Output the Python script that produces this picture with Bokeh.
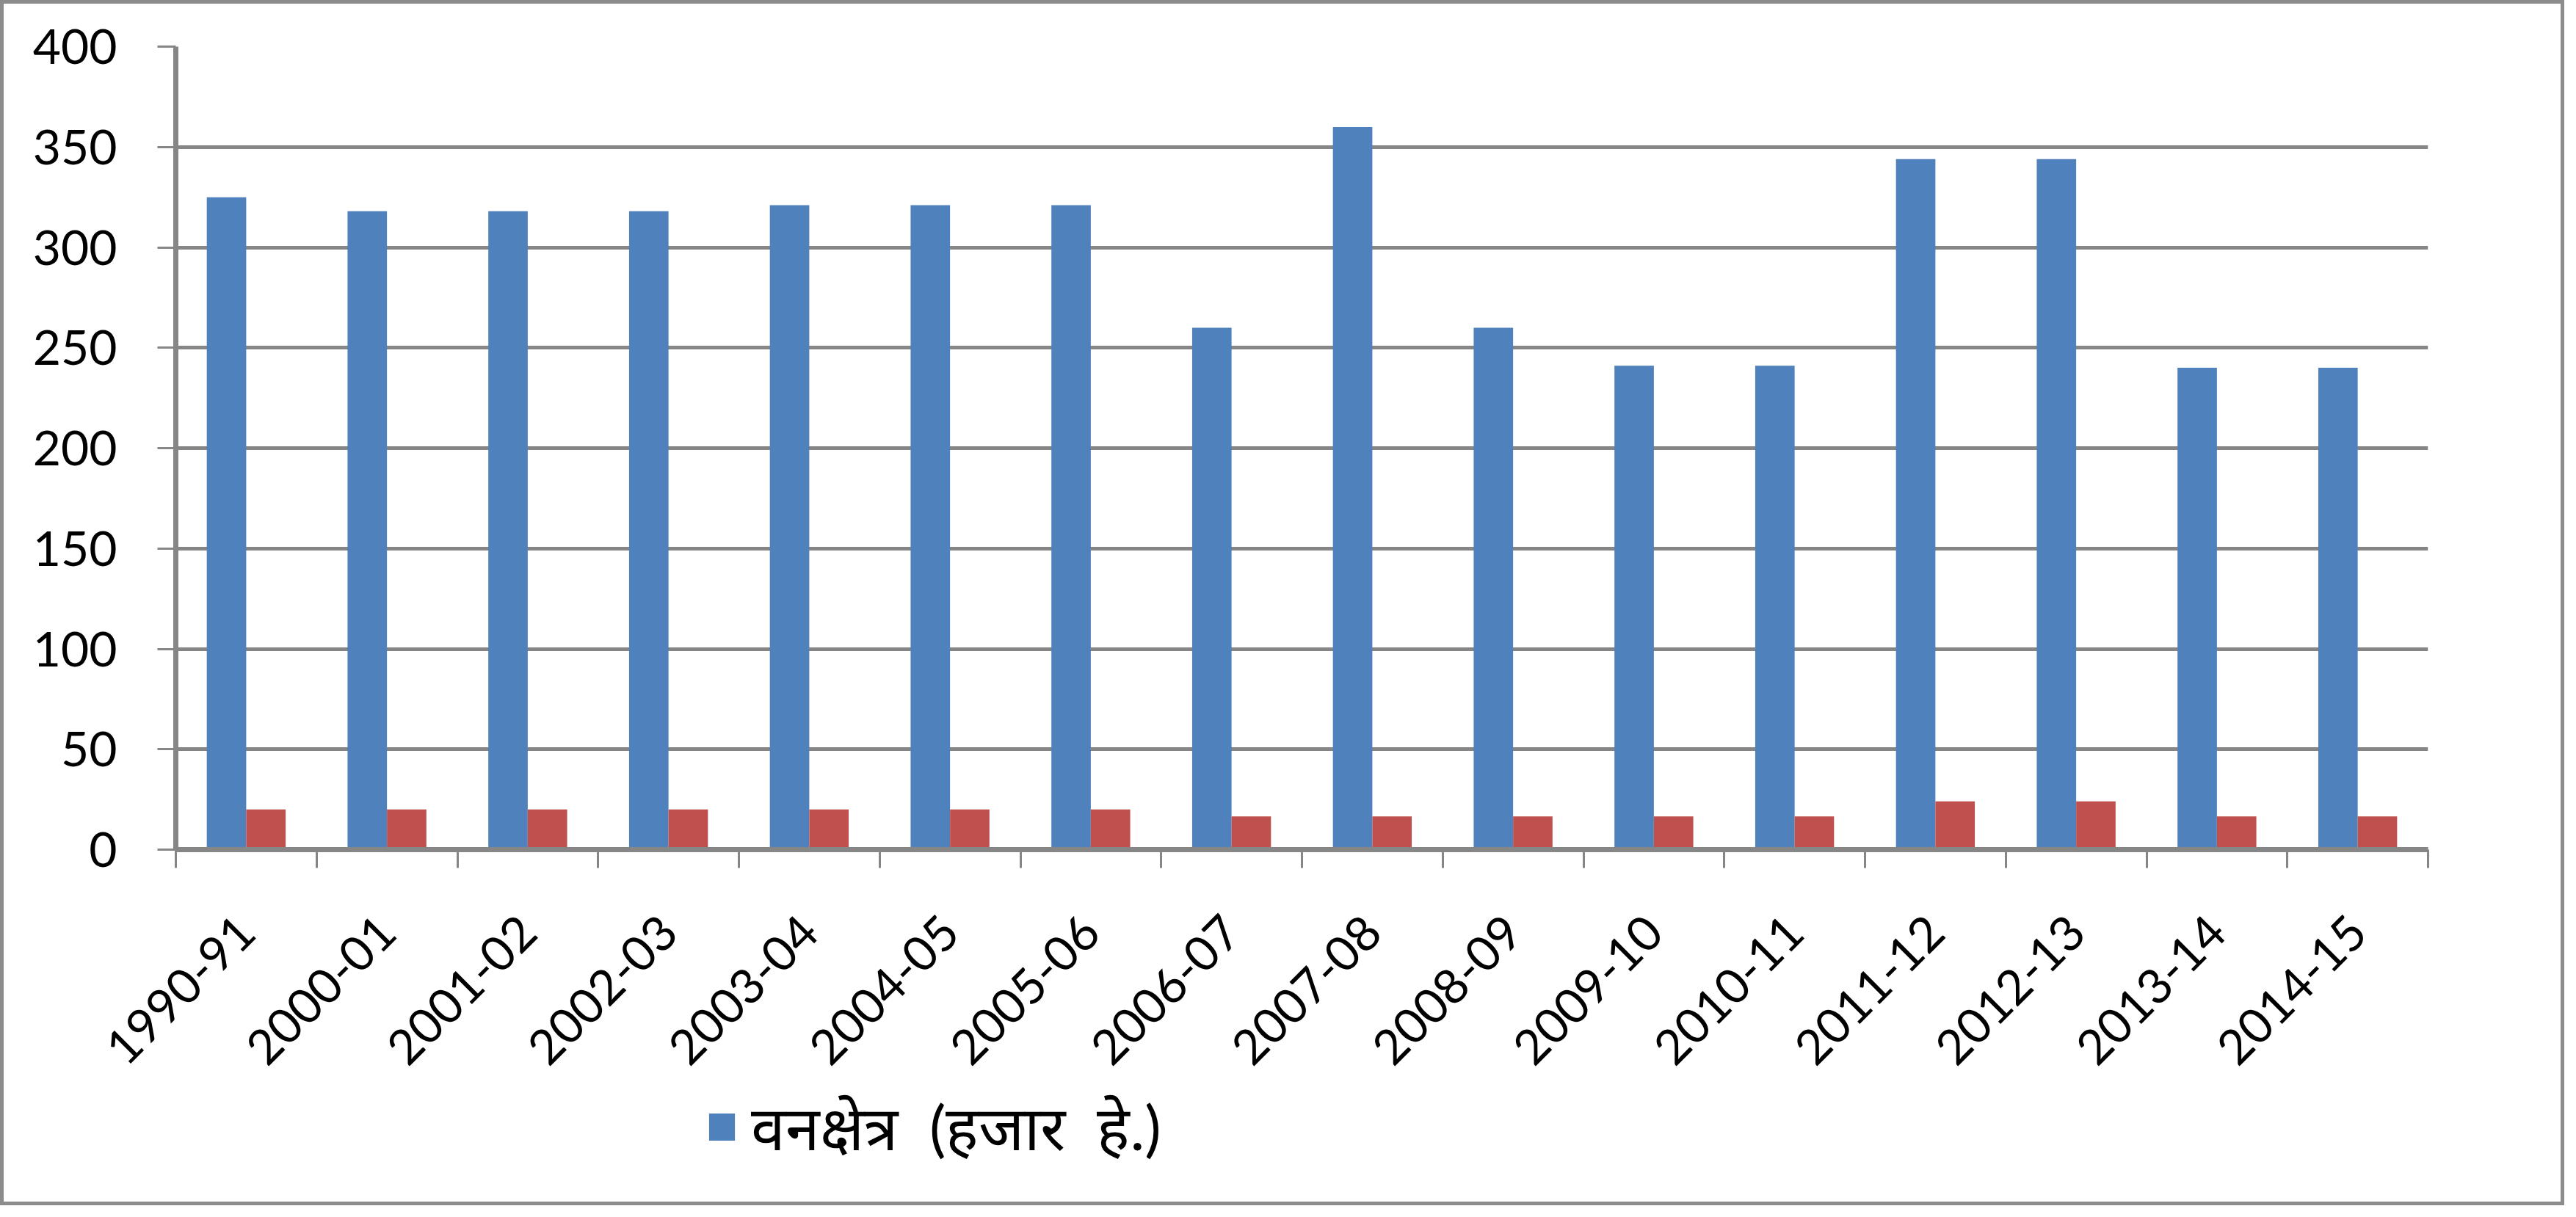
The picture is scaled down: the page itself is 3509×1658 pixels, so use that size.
import math
import numpy as np
from bokeh.plotting import figure
from bokeh.layouts import column
from bokeh.models import FixedTicker, Range1d, Legend, LegendItem
from bokeh.embed import file_html
from bokeh.resources import INLINE

years = ["1990-91", "2000-01", "2001-02", "2002-03", "2003-04", "2004-05",
         "2005-06", "2006-07", "2007-08", "2008-09", "2009-10", "2010-11",
         "2011-12", "2012-13", "2013-14", "2014-15"]
forest_area = [325, 318, 318, 318, 321, 321, 321, 260, 360, 260, 241, 241,
               344, 344, 240, 240]
second_series = [20, 20, 20, 20, 20, 20, 20, 16.5, 16.5, 16.5, 16.5, 16.5,
                 24, 24, 16.5, 16.5]
y_ticks = [0, 50, 100, 150, 200, 250, 300, 350, 400]
legend_label = "वनक्षेत्र  (हजार  हे.)"

BLUE = "#4F81BD"
RED = "#C0504D"
GRAY = "#868686"
FONT = "Lato"
W = 3483

n = len(years)
idx = np.arange(n)
centers = (idx + 0.5).tolist()
bounds = np.arange(n + 1).tolist()

p = figure(width=W, height=1480, x_range=Range1d(0, n), y_range=Range1d(0, 400),
           output_backend="svg", toolbar_location=None,
           min_border_left=234, min_border_top=58, min_border_right=181,
           min_border_bottom=328)
p.outline_line_color = None
p.background_fill_color = "white"
p.border_fill_color = "white"

r_blue = p.vbar(x=(idx + 0.36).tolist(), top=forest_area, width=0.28,
                color=BLUE, line_color=None)
r_red = p.vbar(x=(idx + 0.64).tolist(), top=second_series, width=0.28,
               color=RED, line_color=None)

# x axis
xa = p.xaxis[0]
xa.ticker = FixedTicker(ticks=centers, minor_ticks=bounds)
xa.major_label_overrides = {c: y for c, y in zip(centers, years)}
xa.major_label_orientation = math.pi / 4
xa.major_tick_out = 0
xa.major_tick_in = 0
xa.minor_tick_out = 25
xa.minor_tick_in = 0
xa.minor_tick_line_color = GRAY
xa.minor_tick_line_width = 3
xa.axis_line_color = GRAY
xa.axis_line_width = 7
xa.major_label_text_font = FONT
xa.major_label_text_font_size = "66px"
xa.major_label_text_color = "black"
xa.major_label_standoff = 76

# y axis
ya = p.yaxis[0]
ya.ticker = FixedTicker(ticks=y_ticks)
ya.major_tick_out = 25
ya.major_tick_in = 0
ya.major_tick_line_color = GRAY
ya.major_tick_line_width = 3
ya.minor_tick_line_color = None
ya.axis_line_color = GRAY
ya.axis_line_width = 7
ya.major_label_text_font = FONT
ya.major_label_text_font_size = "66px"
ya.major_label_text_color = "black"
ya.major_label_standoff = 55

p.xgrid.visible = False
p.ygrid.ticker = FixedTicker(ticks=y_ticks)
p.ygrid.grid_line_color = GRAY
p.ygrid.grid_line_width = 5

# legend strip below the chart (its frame is aligned with the chart's frame)
q = figure(width=W, height=152, output_backend="svg", toolbar_location=None,
           min_border=0, x_axis_type=None, y_axis_type=None,
           x_range=Range1d(0, n), y_range=Range1d(0, 400))
q.outline_line_color = None
q.xgrid.visible = False
q.ygrid.visible = False
q.background_fill_color = "white"
q.border_fill_color = "white"
# same series, hidden: it only feeds the legend key
key = q.vbar(x=(idx + 0.36).tolist(), top=forest_area, width=0.28,
             color=BLUE, line_color=None, visible=False)

legend = Legend(items=[LegendItem(label=legend_label, renderers=[key])],
                location=(722, 45), orientation="horizontal",
                padding=0, margin=0, border_line_color=None,
                background_fill_alpha=0, glyph_width=44, glyph_height=46,
                label_standoff=18, label_text_font=FONT,
                label_text_font_size="84px", label_text_color="black",
                label_text_baseline="middle", inactive_fill_alpha=0)
q.add_layout(legend, "center")

page = column(p, q, spacing=0,
              styles={"border": "5px solid #8c8c8c", "background": "white"})

open("out.html", "w").write(file_html(page, INLINE))
